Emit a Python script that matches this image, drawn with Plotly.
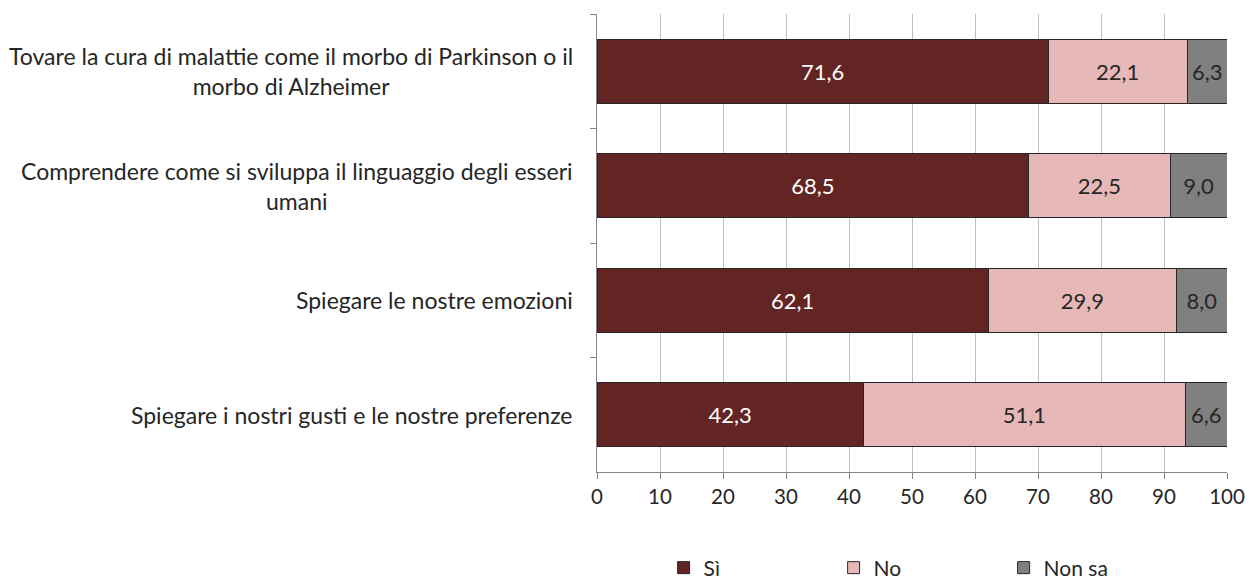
import plotly.graph_objects as go

categories = [
    "Tovare la cura di malattie come il morbo di Parkinson o il<br>morbo di Alzheimer",
    "Comprendere come si sviluppa il linguaggio degli esseri<br>umani",
    "Spiegare le nostre emozioni",
    "Spiegare i nostri gusti e le nostre preferenze",
]
si = [71.6, 68.5, 62.1, 42.3]
no = [22.1, 22.5, 29.9, 51.1]
non_sa = [6.3, 9.0, 8.0, 6.6]
series_names = ["Sì", "No", "Non sa"]
x_ticks = list(range(0, 101, 10))

FONT = "Lato, 'Open Sans', sans-serif"
colors = ["#632523", "#E6B9B8", "#808080"]
text_colors = ["white", "#262626", "#262626"]

fig = go.Figure()
for name, vals, c, tc in zip(series_names, [si, no, non_sa], colors, text_colors):
    fig.add_trace(go.Bar(
        y=categories, x=vals, name=name, orientation="h",
        marker=dict(color=c, line=dict(color="#262626", width=1)),
        text=[f"{v:.1f}".replace(".", ",") for v in vals],
        textposition="inside", insidetextanchor="middle",
        textfont=dict(color=tc, size=22, family=FONT),
        width=0.56,
    ))

for cat in categories:
    fig.add_annotation(
        x=-0.035, xref="paper", y=cat, yref="y", text=cat,
        showarrow=False, xanchor="right", yanchor="middle", align="center",
        font=dict(size=23, family=FONT, color="#262626"),
    )

# the page body adds an 8px margin, so the figure is sized to fit the visible window
fig.update_layout(
    barmode="stack",
    width=1237, height=572,
    margin=dict(l=589, r=18, t=6, b=108),
    plot_bgcolor="white", paper_bgcolor="white",
    font=dict(family=FONT, size=21, color="#262626"),
    showlegend=True,
    legend=dict(orientation="h", xref="container", yref="container",
                x=0.530, xanchor="left", y=0.021, yanchor="middle",
                font=dict(size=21, family=FONT), entrywidth=125, traceorder="normal",
                itemwidth=30, tracegroupgap=0, bgcolor="rgba(0,0,0,0)"),
    xaxis=dict(range=[0, 100], tickvals=x_ticks, showgrid=True, gridcolor="#BFBFBF",
               gridwidth=1, showline=True, linecolor="#868686", ticks="outside",
               tickcolor="#868686", ticklen=6, zeroline=False, automargin=False,
               tickfont=dict(size=20.5, family=FONT)),
    yaxis=dict(type="category", autorange="reversed", tickson="boundaries",
               showticklabels=False, ticks="outside", tickcolor="#868686", ticklen=6,
               showline=True, linecolor="#868686", showgrid=False, automargin=False),
    bargap=0.44,
)

fig.write_html("out.html")
